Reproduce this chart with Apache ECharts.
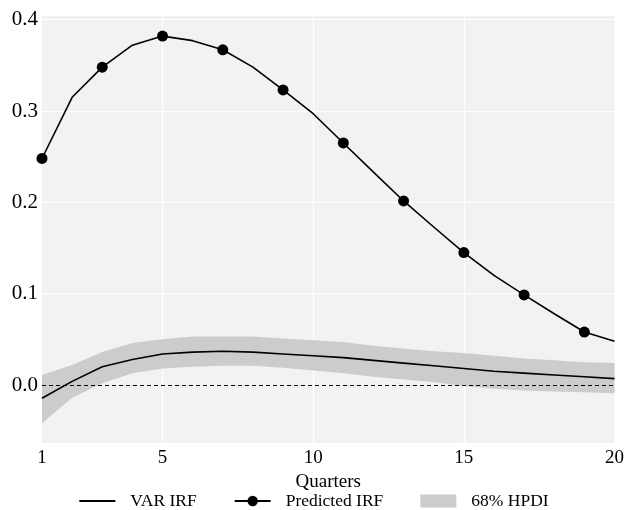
<!DOCTYPE html>
<html>
<head>
<meta charset="utf-8">
<script src="https://cdn.jsdelivr.net/npm/echarts@6/dist/echarts.min.js"></script>
<style>html,body{margin:0;padding:0;background:#fff}#c{width:627px;height:510px}</style>
</head>
<body>
<div id="c"></div>
<script>
var quarters = [1,2,3,4,5,6,7,8,9,10,11,12,13,14,15,16,17,18,19,20];
var varIRF = [-0.0145,0.004,0.020,0.028,0.034,0.036,0.037,0.036,0.034,0.032,0.030,0.027,0.024,0.021,0.018,0.015,0.013,0.011,0.009,0.007];
var predictedIRF = [0.248,0.315,0.348,0.372,0.382,0.377,0.367,0.348,0.323,0.297,0.265,0.233,0.2015,0.173,0.145,0.120,0.0986,0.078,0.058,0.048];
var hpdiUpper = [0.011,0.022,0.036,0.046,0.050,0.053,0.053,0.053,0.051,0.049,0.047,0.043,0.040,0.037,0.035,0.032,0.029,0.027,0.025,0.024];
var hpdiLower = [-0.042,-0.014,0.002,0.013,0.018,0.020,0.021,0.021,0.019,0.016,0.013,0.009,0.006,0.003,-0.001,-0.004,-0.006,-0.007,-0.008,-0.009];
var xTickLabels = [1,5,10,15,20];
var xGridLines = [5,10,15];
var yTickValues = [0.0,0.1,0.2,0.3,0.4];
var yGridLines = [0.1,0.2,0.3,0.4];

var font = 'Liberation Serif';
var cats = quarters.map(String);
var bandWidth = hpdiUpper.map(function(u,i){ return +(u - hpdiLower[i]).toFixed(4); });

var chart = echarts.init(document.getElementById('c'), null, {renderer:'canvas'});
chart.setOption({
  animation:false,
  backgroundColor:'#ffffff',
  textStyle:{fontFamily:font},
  grid:{left:42, right:11, top:16, bottom:67, show:true, backgroundColor:'#f2f2f2', borderWidth:0, containLabel:false},
  legend:{
    top:487, left:'center', itemGap:37, itemWidth:36, itemHeight:13,
    textStyle:{fontFamily:font, fontSize:17.5, color:'#000', padding:[0,0,0,10]},
    data:[
      {name:'VAR IRF', itemStyle:{opacity:0}},
      {name:'Predicted IRF'},
      {name:'68% HPDI', icon:'rect', itemStyle:{color:'#cccccc'}}
    ]
  },
  xAxis:{
    type:'category', data:cats, boundaryGap:false,
    name:'Quarters', nameLocation:'middle', nameGap:28,
    nameTextStyle:{fontFamily:font, fontSize:19, color:'#000', verticalAlign:'top'},
    axisLine:{show:false}, axisTick:{show:false},
    axisLabel:{fontFamily:font, fontSize:19, color:'#000', margin:6,
      interval:function(i,v){ return xTickLabels.indexOf(+v) >= 0; }},
    splitLine:{show:true, lineStyle:{color:'#ffffff', width:1.2},
      interval:function(i,v){ return xGridLines.indexOf(+v) >= 0; }}
  },
  yAxis:{
    type:'value', min:-0.0635, max:0.404,
    axisLine:{show:false}, axisTick:{show:false},
    axisLabel:{fontFamily:font, fontSize:21, color:'#000', margin:4,
      customValues:yTickValues,
      formatter:function(v){ return v.toFixed(1); }},
    splitLine:{show:false}
  },
  series:[
    {
      name:'grid', type:'line', data:[], silent:true,
      markLine:{silent:true, symbol:'none', label:{show:false},
        lineStyle:{color:'#ffffff', width:1.2, type:'solid'},
        data:yGridLines.map(function(v){ return {yAxis:v}; })}
    },
    {
      name:'hpdiBase', type:'line', data:hpdiLower, stack:'band', stackStrategy:'all',
      symbol:'none', lineStyle:{opacity:0}, silent:true, z:2
    },
    {
      name:'68% HPDI', type:'line', data:bandWidth, stack:'band', stackStrategy:'all',
      symbol:'none', lineStyle:{opacity:0}, itemStyle:{color:'#cccccc'},
      areaStyle:{color:'#cccccc', opacity:1}, silent:true, z:2
    },
    {
      name:'zero', type:'line', data:[], silent:true,
      markLine:{silent:true, symbol:'none', label:{show:false},
        lineStyle:{color:'#000', width:1, type:[4,3]},
        data:[{yAxis:0}]}, z:3
    },
    {
      name:'VAR IRF', type:'line', data:varIRF, symbol:'none',
      lineStyle:{color:'#000', width:1.6}, itemStyle:{color:'#000'}, z:4
    },
    {
      name:'Predicted IRF', type:'line', data:predictedIRF, symbol:'circle',
      showAllSymbol:true,
      symbolSize:function(v, p){ return p.dataIndex % 2 === 0 ? 11 : 0; },
      lineStyle:{color:'#000', width:1.6}, itemStyle:{color:'#000'}, z:5
    }
  ]
});
</script>
</body>
</html>
